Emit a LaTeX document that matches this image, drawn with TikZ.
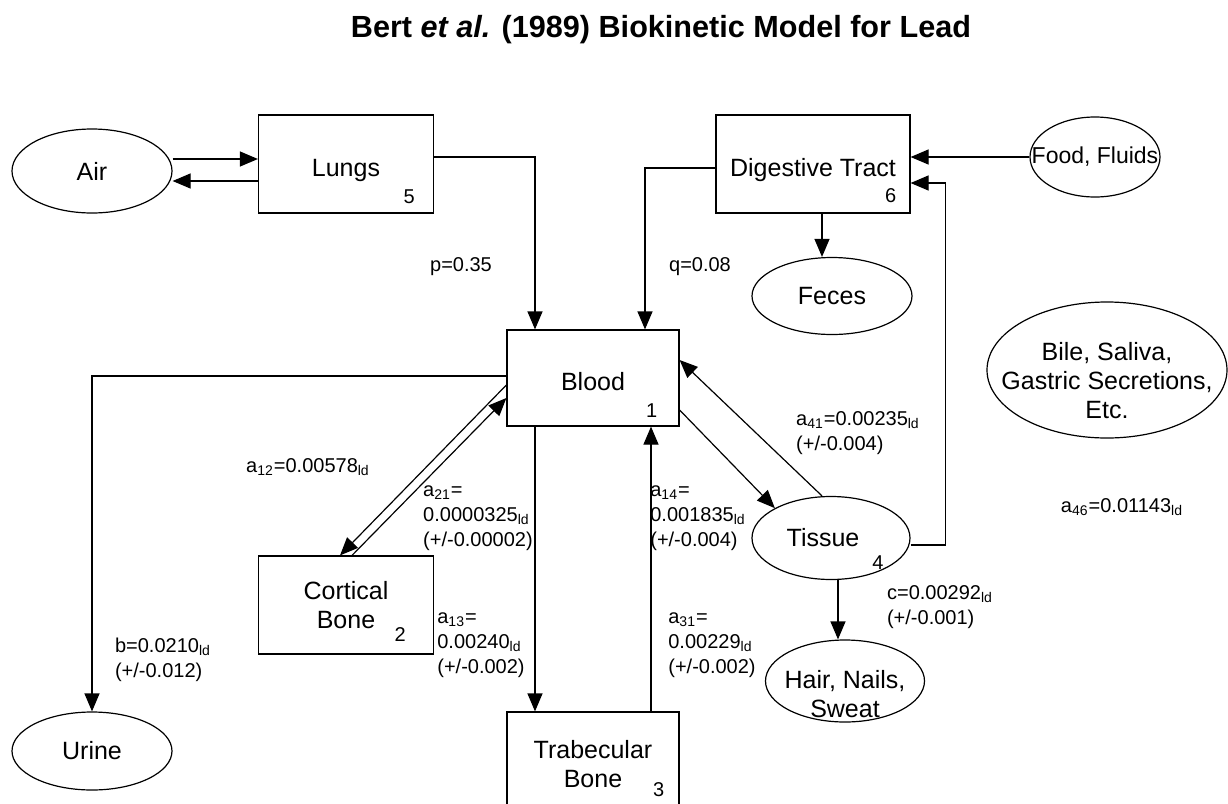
\documentclass[tikz,border=0pt]{standalone}
\usepackage{fontspec}
\setmainfont{Liberation Sans}
\usetikzlibrary{arrows.meta, shapes.geometric}
\newcommand\kin[1]{a\textsubscript{#1}}
\newcommand\perd{\textsubscript{ld}}

\begin{document}
\begin{tikzpicture}[x = 0.5pt, y = -0.5pt, line width = 0.6pt, >={Triangle[length = 9pt, width = 7.5pt]},
    box/.style   = {draw, rectangle, inner sep = 0pt, align = center, font = \fontsize{12.5}{14.5}\selectfont},
    pool/.style  = {draw, ellipse, inner sep = 0pt},
    every label/.style = {align = center, inner sep = 0pt, font = \fontsize{12.5}{14.5}\selectfont},
    rate/.style  = {align = left, inner sep = 0pt, font = \fontsize{10}{12.5}\selectfont},
    num/.style   = {inner sep = 0pt, font = \fontsize{10}{12}\selectfont}]
      \useasboundingbox (0,0) rectangle (1228,804);
      \node[font = \bfseries\fontsize{15.3}{18}\selectfont] (title) at (661,30) {Bert \textit{et al.} (1989) Biokinetic Model for Lead};

      % compartments
      \node[box, minimum width = 87.5pt, minimum height = 49pt, text height = 15pt] (lungs)  at (346,164) {Lungs};
      \node[box, minimum width = 97pt,   minimum height = 49pt, text height = 15pt] (digest) at (813,164) {Digestive Tract};
      \node[box, minimum width = 86pt,   minimum height = 48pt, text height = 13pt] (blood)  at (593,378) {Blood};
      \node[box, minimum width = 87.5pt, minimum height = 49pt] (cortical) at (346,605) {Cortical\\Bone};
      \node[box, minimum width = 86pt,   minimum height = 52pt] (trab)     at (593,764) {Trabecular\\Bone};
      \node[pool, minimum width = 79pt, minimum height = 41.5pt, label = {[xshift = -4pt]center:Tissue}] (tissue) at (831,538) {};

      \node[num] (n5) at ([shift = {(-25,-17)}]lungs.south east)    {5};
      \node[num] (n6) at ([shift = {(-20,-18)}]digest.south east)   {6};
      \node[num] (n1) at ([shift = {(-28,-16)}]blood.south east)    {1};
      \node[num] (n2) at ([shift = {(-34,-20)}]cortical.south east) {2};
      \node[num] (n3) at ([shift = {(-21,78)}]trab.north east)      {3};
      \node[num] (n4) at ([shift = {(47,25)}]tissue.center)         {4};

      % sources and sinks
      \node[pool, minimum width = 80pt, minimum height = 42pt, label = center:Air] (air) at (92,171) {};
      \node[pool, minimum width = 65pt, minimum height = 40pt,
            label = {[font = \fontsize{11.5}{14}\selectfont]center:{Food, Fluids}}] (food) at (1095,157) {};
      \node[pool, minimum width = 80pt, minimum height = 38.5pt, label = center:Feces] (feces) at (832,296) {};
      \node[pool, minimum width = 120pt, minimum height = 68pt,
            label = {[yshift = -5.5pt]center:{Bile, Saliva,\\Gastric Secretions,\\Etc.}}] (bile) at (1107,370) {};
      \node[pool, minimum width = 80pt, minimum height = 39pt, label = center:Urine] (urine) at (92,751) {};
      \node[pool, minimum width = 79.5pt, minimum height = 41pt,
            label = {[yshift = -6.5pt]center:{Hair, Nails,\\Sweat}}] (hair) at (845,681) {};

      % transfers
      \path[->] ([yshift = 6pt]air.east) edge ([yshift = 6pt]air.east -| lungs.west)
                ([yshift = -8.5pt]lungs.west) edge ([yshift = -8.5pt]lungs.west -| air.east)
                (food.west) edge (food.west -| digest.east)
                ([xshift = 4.5pt]digest.south) edge ([xshift = 4.5pt]digest.south |- feces.north)
                ([yshift = -3.5pt]blood.west) edge ([xshift = -3pt]cortical.north)
                ([xshift = 3pt]cortical.north) edge ([yshift = -10pt]blood.west)
                ([xshift = -29pt]blood.south) edge ([xshift = -29pt]trab.north)
                ([xshift = 29pt]trab.north) edge ([xshift = 29pt]blood.south)
                ([yshift = -16pt]blood.east) edge (tissue.152)
                ([xshift = -4.5pt]tissue.north) edge ([yshift = 9pt]blood.east)
                ([xshift = 3.5pt]tissue.south) edge ([xshift = 3.5pt]tissue.south |- hair.north);
      \draw[->] ([yshift = 3.5pt]lungs.east) -| ([xshift = -29pt]blood.north);
      \draw[->] ([yshift = -2pt]digest.west) -| ([xshift = 26pt]blood.north);
      \draw[->] ([yshift = -3.5pt]tissue.east) -- ++(35,0) |- ([yshift = -9.5pt]digest.east);
      \draw[->] ([yshift = 1pt]blood.west) -| (urine.north);

      % rate constants
      \node[rate] (p)   at (461,267)  {p=0.35};
      \node[rate] (q)   at (700,267)  {q=0.08};
      \node[rate] (r12) at (308,467)  {\kin{12}=0.00578\perd};
      \node[rate] (r21) at (478,518)  {\kin{21}=\\0.0000325\perd\\(+/-0.00002)};
      \node[rate] (r13) at (481,645)  {\kin{13}=\\0.00240\perd\\(+/-0.002)};
      \node[rate] (r14) at (698,518)  {\kin{14}=\\0.001835\perd\\(+/-0.004)};
      \node[rate] (r31) at (712,645)  {\kin{31}=\\0.00229\perd\\(+/-0.002)};
      \node[rate] (r41) at (858,433)  {\kin{41}=0.00235\perd\\(+/-0.004)};
      \node[rate] (rc)  at (940,607)  {c=0.00292\perd\\(+/-0.001)};
      \node[rate] (rb)  at (163,660)  {b=0.0210\perd\\(+/-0.012)};
      \node[rate] (r46) at (1122,507) {\kin{46}=0.01143\perd};
\end{tikzpicture}
\end{document}
